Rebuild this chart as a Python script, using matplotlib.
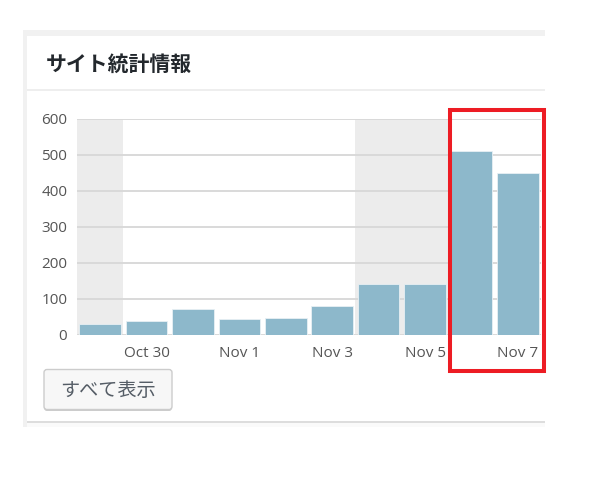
import numpy as np
import pandas as pd
import matplotlib
matplotlib.use("Agg")
import matplotlib.pyplot as plt
from matplotlib.patches import Rectangle, FancyBboxPatch

plt.rcParams['font.family'] = ['Noto Sans CJK JP', 'DejaVu Sans']

# data
dates = ["2017-10-29", "2017-10-30", "2017-10-31", "2017-11-01", "2017-11-02",
         "2017-11-03", "2017-11-04", "2017-11-05", "2017-11-06", "2017-11-07"]
views = [30, 38, 72, 45, 48, 80, 141, 142, 510, 449]
yticks = [0, 100, 200, 300, 400, 500, 600]
title = "サイト統計情報"
button_label = "すべて表示"

days = pd.to_datetime(dates)
weekend = days.weekday >= 5
xlabels = [d.strftime("%b ") + str(d.day) for d in days]
x = np.arange(len(views))

W, H = 605, 480
fig = plt.figure(figsize=(W / 100, H / 100), dpi=100)

# background: widget panel, drawn in pixel coords
bg = fig.add_axes([0, 0, 1, 1], zorder=0)
bg.set_xlim(0, W)
bg.set_ylim(H, 0)
bg.axis("off")
bg.add_patch(Rectangle((23, 30), 522, 397, facecolor="#f1f1f1", edgecolor="none"))
bg.add_patch(Rectangle((27, 36), 518, 386, facecolor="white", edgecolor="none"))
bg.add_patch(Rectangle((27, 89), 518, 2, facecolor="#eeeeee", edgecolor="none"))
bg.add_patch(Rectangle((27, 421), 518, 2, facecolor="#dddddd", edgecolor="none"))
bg.add_patch(Rectangle((27, 423), 518, 4, facecolor="#fafafa", edgecolor="none"))
bg.text(46, 64, title, fontsize=15, fontweight="bold", color="#23282d",
        ha="left", va="center")

# button
bg.add_patch(FancyBboxPatch((44, 371), 128, 40, boxstyle="round,pad=0,rounding_size=3",
                            facecolor="#cccccc", edgecolor="none"))
bg.add_patch(FancyBboxPatch((44, 369.5), 128, 40, boxstyle="round,pad=0,rounding_size=3",
                            facecolor="#f7f7f7", edgecolor="#cccccc", linewidth=1))
bg.text(108, 390, button_label, fontsize=13.8, color="#555d66", ha="center", va="center")

# chart
ax = fig.add_axes([77 / W, (H - 335) / H, 464 / W, 216 / H], zorder=1)
ax.patch.set_alpha(0)
for i in x[weekend]:
    ax.axvspan(i - 0.5, i + 0.5, color="#ececec", zorder=0, linewidth=0)
for t in yticks:
    ax.axhline(t, color="#d9d9d9", linewidth=1.4, zorder=1)
ax.bar(x, views, width=0.9, color="#8db8cb", edgecolor="#e8f0f4", linewidth=0.6, zorder=2)

ax.set_xlim(-0.5, len(views) - 0.5)
ax.set_ylim(0, 600)
ax.set_yticks(yticks)
ax.set_yticklabels([str(t) for t in yticks])
ax.set_xticks(x[1::2])
ax.set_xticklabels(xlabels[1::2])
ax.tick_params(length=0, labelsize=11, labelcolor="#555555")
ax.tick_params(axis="y", pad=7)
ax.tick_params(axis="x", pad=8)
for lab in ax.get_xticklabels() + ax.get_yticklabels():
    lab.set_family(["Open Sans", "DejaVu Sans"])
for s in ax.spines.values():
    s.set_visible(False)

# red highlight box around the last two days
ov = fig.add_axes([0, 0, 1, 1], zorder=2)
ov.set_xlim(0, W)
ov.set_ylim(H, 0)
ov.axis("off")
ov.add_patch(Rectangle((450, 109.5), 93.5, 261.5, facecolor="none",
                       edgecolor="#ed1c24", linewidth=2.9))

fig.savefig("out.png", dpi=100)
